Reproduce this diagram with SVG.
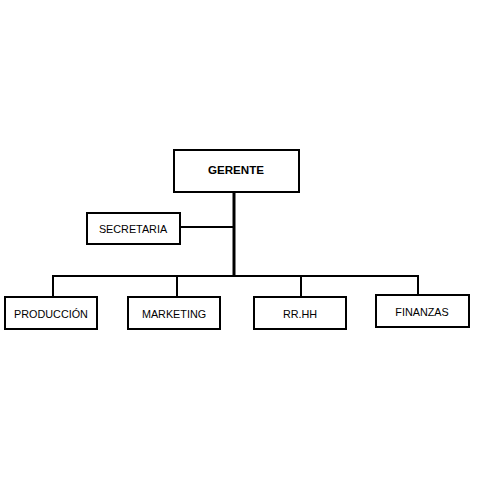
<svg xmlns="http://www.w3.org/2000/svg" width="480" height="480" viewBox="0 0 480 480">
<style>
.box{fill:#fff;stroke:#000;stroke-width:2}
.t{font-family:"Liberation Sans",Arial,sans-serif;font-size:10.8px;fill:#000;text-anchor:middle}
.c{stroke:#000;stroke-width:2;fill:none}
</style>
<rect width="480" height="480" fill="#fff"/>
<g id="connectors">
<line class="c" x1="234" y1="192" x2="234" y2="277" style="stroke-width:3"/>
<line class="c" x1="180" y1="227" x2="234" y2="227"/>
<polyline class="c" points="53,297 53,276 418,276 418,295"/>
<line class="c" x1="177" y1="276" x2="177" y2="297"/>
<line class="c" x1="301" y1="276" x2="301" y2="297"/>
</g>
<g id="gerente"><rect class="box" x="174" y="150" width="125" height="42"/><text class="t" x="236" y="174" font-weight="bold" style="font-size:11.6px">GERENTE</text></g>
<g id="secretaria"><rect class="box" x="87" y="213" width="93" height="31"/><text class="t" x="133" y="233">SECRETARIA</text></g>
<g id="produccion"><rect class="box" x="5" y="297" width="92" height="32"/><text class="t" x="51" y="318">PRODUCCIÓN</text></g>
<g id="marketing"><rect class="box" x="128" y="297" width="92" height="32"/><text class="t" x="174" y="318">MARKETING</text></g>
<g id="rrhh"><rect class="box" x="254" y="297" width="92" height="32"/><text class="t" x="300" y="318">RR.HH</text></g>
<g id="finanzas"><rect class="box" x="376" y="295" width="93" height="32"/><text class="t" x="422" y="316">FINANZAS</text></g>
</svg>
